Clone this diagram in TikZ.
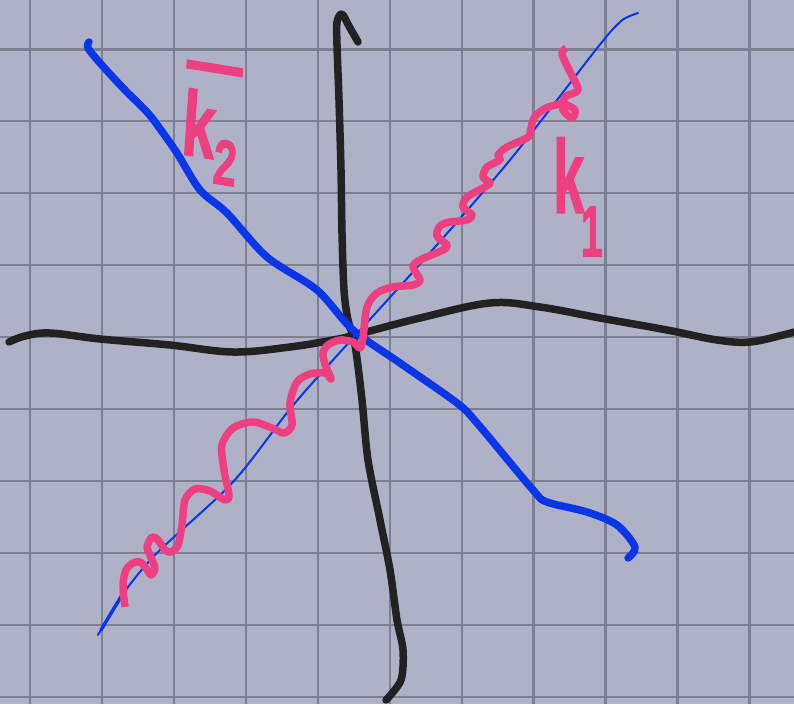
\documentclass[tikz,border=0pt]{standalone}
\usepackage{fontspec}
\newfontfamily\markerfont{Liberation Sans}[FakeBold=1.5]
\definecolor{bg}{RGB}{175,178,199}
\definecolor{gridc}{RGB}{126,128,146}
\definecolor{inkblue}{RGB}{8,54,232}
\definecolor{inkpink}{RGB}{238,64,128}
\definecolor{inkblack}{RGB}{34,34,34}
\tikzset{
 gridline/.style={gridc, line width=2.4pt},
 axisstroke/.style={inkblack, line width=7.5pt, line cap=round, line join=round},
 bluestroke/.style={inkblue, line width=7.5pt, line cap=round, line join=round},
 thinblue/.style={inkblue, line width=2pt, line cap=round, line join=round},
 helix/.style={inkpink, line width=7.5pt, line join=round},
 labeltext/.style={inkpink, inner sep=0pt, font=\markerfont\bfseries}
}
\begin{document}
\begin{tikzpicture}[x=1pt,y=-1pt]
\fill[bg] (0,0) rectangle (794,704);
\useasboundingbox (0,0) rectangle (794,704);
% grid
\foreach \i in {0,...,10} \draw[gridline] ({30+71.95*\i},0) -- ({30+71.95*\i},704);
\foreach \j in {0,...,9} \draw[gridline] (0,{49.3+71.95*\j}) -- (794,{49.3+71.95*\j});
% horizontal axis
\draw[axisstroke] plot[smooth, tension=0.6] coordinates {(9,342) (25,336) (50,333) (100,339) (170,345) (233,352) (290,347) (333,340) (355,335) (420,318) (490,303) (540,307) (600,318) (667,330) (717,340) (750,342) (783,335) (794,332)};
% vertical axis
\draw[axisstroke] plot[smooth, tension=0.5] coordinates {(358,42) (350,28) (342,14) (337,22) (337,45) (339,100) (341,170) (342,233) (344,290) (348,320) (355,345) (362,400) (368,460) (380,520) (390,570) (397,620) (403,650) (401,680) (386,700)};
% thick blue
\draw[bluestroke] plot[smooth, tension=0.5] coordinates {(89,42) (88,48) (100,63) (123,88) (147,112) (158,126) (177,153) (200,190) (227,213) (267,257) (317,290) (353,330) (400,363) (457,403) (477,423) (533,490) (547,502) (587,512) (617,525) (635,547) (628,558)};
% thin blue
\draw[thinblue] plot[smooth, tension=0.5] coordinates {(98,635) (123,594) (157,553) (233,482) (290,409) (333,360) (420,264) (510,160) (598,47) (620,22) (630,16) (638,13)};
\draw[inkblue, line width=3.5pt, line cap=round] (101,630) -- (122,595);
% helix
\draw[helix] plot[smooth, tension=0.5] coordinates {(125,607) (123,585) (126,570) (133,563) (140,562) (146,568) (151,575) (155,568) (150,555) (147,547) (152,537) (158,540) (165,550) (171,552) (178,545) (182,525) (185,500) (195,489) (210,491) (225,500) (229,495) (224,470) (222,445) (233,428) (253,422) (272,428) (284,433) (292,425) (290,403) (297,382) (310,374) (325,373) (331,379) (325,364) (323,353) (328,345) (340,340) (353,342) (360,348) (363,338) (367,307) (377,293) (393,287) (413,285) (420,280) (413,267) (420,260) (443,250) (447,245) (437,236) (440,226) (450,222) (467,220) (472,215) (463,207) (467,197) (483,188) (490,183) (483,177) (487,167) (500,160) (498,155) (507,147) (527,138) (530,133) (534,118) (546,108) (563,104) (575,110) (572,118) (563,110) (565,97) (578,90) (570,72) (562,54) (566,48)};
% labels
\node[labeltext, xscale=6, yscale=9.2, rotate=-6] (ktwo) at (211,123) {\vbox{\hrule height 1pt\kern 2.1pt\hbox{k\raisebox{-2.6pt}{\scriptsize 2}}}};
\node[labeltext, xscale=5.6, yscale=10.4] (kone) at (578,197) {k\kern-0.6pt\raisebox{-4.2pt}{\scriptsize 1}};
\end{tikzpicture}
\end{document}
